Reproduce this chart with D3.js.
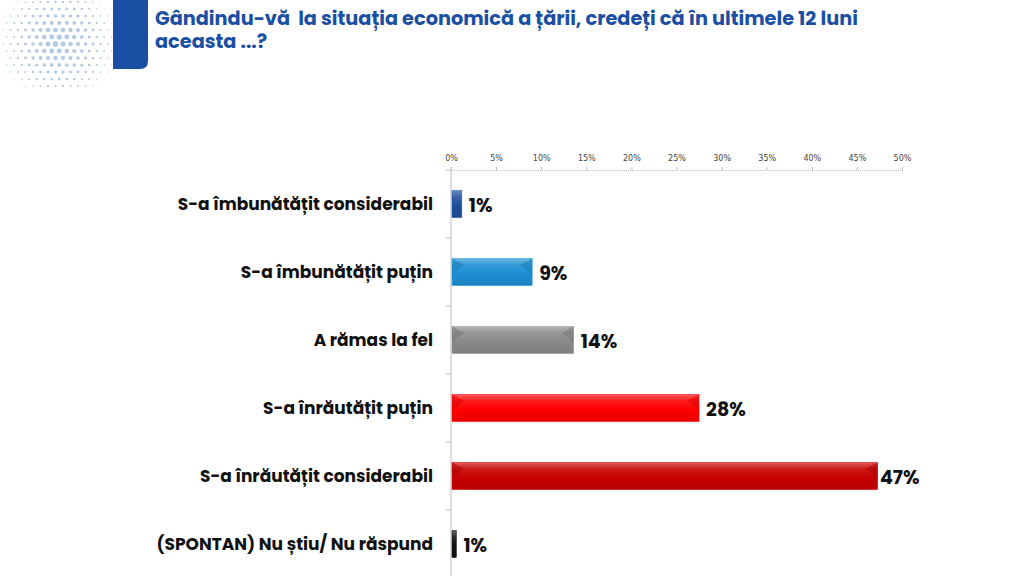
<!DOCTYPE html>
<html><head><meta charset="utf-8">
<script src="https://cdn.jsdelivr.net/npm/d3@7"></script>
<style>html,body{margin:0;padding:0;background:#fff;}svg{display:block;}</style>
</head><body>
<svg id="c" width="1024" height="576"></svg>
<script>
const titleLines = ["Gândindu-vă  la situația economică a țării, credeți că în ultimele 12 luni", "aceasta ...?"];
const categories = ["S-a îmbunătățit considerabil","S-a îmbunătățit puțin","A rămas la fel","S-a înrăutățit puțin","S-a înrăutățit considerabil","(SPONTAN) Nu știu/ Nu răspund"];
const values = [1.2, 9.0, 13.6, 27.5, 47.3, 0.6];
const valueLabels = ["1%","9%","14%","28%","47%","1%"];
const barColors = ["#1f4f9c","#1e8fd2","#8a8a8a","#ff0000","#c80000","#111111"];
const tickValues = [0,5,10,15,20,25,30,35,40,45,50];

const svg = d3.select("#c");
const defs = svg.append("defs");
const font = "Poppins, 'Noto Sans', 'DejaVu Sans', sans-serif";

// halftone dots top-left
const dots = svg.append("g");
for (let i=0;i<15;i++) for (let j=0;j<13;j++){
  const cx = 3 + i*7.5 + (j%2)*3.75, cy = 2 + j*7;
  const d = Math.hypot(cx-58, cy-42);
  const r = Math.max(0, 2.8 - d/26);
  if (r>0.35) dots.append("circle").attr("cx",cx).attr("cy",cy).attr("r",r).attr("fill","#b3c9e4");
}
// blue tab
svg.append("path").attr("d","M113,0 H148 V61 Q148,69 140,69 H113 Z").attr("fill","#1a4fa3");

// title (one text element per line)
svg.selectAll("text.title").data(titleLines).join("text").attr("class","title")
  .attr("x",155).attr("y",(d,i)=>25+i*23)
  .attr("font-family",font).attr("font-weight","bold")
  .attr("font-size",19.3).attr("fill","#1a4fa3").style("white-space","pre")
  .text(d=>d);

const x = d3.scaleLinear().domain([0,50]).range([451,902]);
const y = d3.scaleBand().domain(categories).range([170,578]).paddingInner(0.6).paddingOuter(0.3);

// top axis
const ax = svg.append("g").attr("transform","translate(0,170)")
  .call(d3.axisTop(x).tickValues(tickValues).tickFormat(d=>d+"%").tickSize(3).tickPadding(6));
ax.select(".domain").attr("stroke","#bbb").attr("stroke-dasharray","1,1");
ax.selectAll(".tick line").attr("stroke","#bbb");
ax.selectAll("text").attr("font-family","'DejaVu Sans', sans-serif").attr("font-size",8).attr("fill","#444");

// vertical axis
svg.append("line").attr("x1",451).attr("x2",451).attr("y1",170).attr("y2",576).attr("stroke","#bbb");
const bounds = d3.range(categories.length+1).map(i=>170+i*y.step());
svg.selectAll(".yt").data(bounds).join("line").attr("x1",446).attr("x2",451)
  .attr("y1",d=>d).attr("y2",d=>d).attr("stroke","#bbb");

// gradients
barColors.forEach((c,i)=>{
  const g = defs.append("linearGradient").attr("id","g"+i).attr("x1",0).attr("y1",0).attr("x2",0).attr("y2",1);
  const base = d3.color(c);
  g.append("stop").attr("offset","0%").attr("stop-color",d3.interpolateRgb(c,"#fff")(0.35));
  g.append("stop").attr("offset","25%").attr("stop-color",d3.interpolateRgb(c,"#fff")(0.1));
  g.append("stop").attr("offset","55%").attr("stop-color",c);
  g.append("stop").attr("offset","100%").attr("stop-color",base.darker(0.25));
});

const data = categories.map((c,i)=>({c,v:values[i],l:valueLabels[i],i}));
const bars = svg.append("g");
bars.selectAll("rect").data(data).join("rect")
  .attr("x",x(0)+1).attr("y",d=>y(d.c)).attr("width",d=>x(d.v)-x(0)-1).attr("height",y.bandwidth())
  .attr("fill",d=>`url(#g${d.i})`).attr("stroke",d=>d3.color(barColors[d.i]).brighter(0.3)).attr("stroke-width",0.5);
// bevel corners
bars.selectAll("path.bv").data(data.filter(d=>x(d.v)-x(0)>20)).join("path").attr("class","bv")
  .attr("d",d=>{const x0=x(0)+1,x1=x(d.v),y0=y(d.c),h=y.bandwidth(),b=6;
    return `M${x0},${y0} L${x0+b*2},${y0+b} L${x0},${y0+h*0.6} Z M${x1},${y0} L${x1-b*2},${y0+b} L${x1},${y0+h*0.6} Z`;})
  .attr("fill",d=>d3.color(barColors[d.i]).darker(0.4)).attr("opacity",0.55);

// value labels
svg.selectAll("text.val").data(data).join("text").attr("class","val")
  .attr("x",d=>Math.min(x(d.v)+7, 880)).attr("y",d=>y(d.c)+y.bandwidth()/2+8)
  .attr("font-family",font).attr("font-weight","bold").attr("font-size",19).attr("fill","#111")
  .text(d=>d.l);

// category labels
svg.selectAll("text.cat").data(data).join("text").attr("class","cat")
  .attr("x",433).attr("y",d=>y(d.c)+y.bandwidth()/2+6).attr("text-anchor","end")
  .attr("font-family",font).attr("font-weight","bold").attr("font-size",17).attr("fill","#111")
  .text(d=>d.c);
</script>
</body></html>
